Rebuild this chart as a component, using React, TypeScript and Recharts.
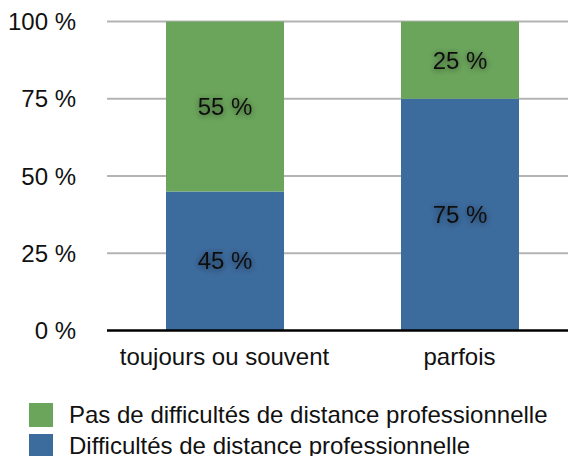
import React from 'react';
import { BarChart, Bar, XAxis, YAxis, CartesianGrid, Legend, LabelList } from 'recharts';

const categories = ['toujours ou souvent', 'parfois'];
const difficultes = [45, 75];
const pasDifficultes = [55, 25];
const yTicks = [0, 25, 50, 75, 100];

const seriesNames = {
  pas: 'Pas de difficultés de distance professionnelle',
  diff: 'Difficultés de distance professionnelle',
};
const GREEN = '#6ba55b';
const BLUE = '#3c6b9d';
const FONT = '"Liberation Sans", Arial, Helvetica, sans-serif';

const data = categories.map((c, i) => ({
  cat: c,
  diff: difficultes[i],
  pas: pasDifficultes[i],
}));

let labelId = 0;
const renderLabel = (props: any) => {
  const { x, y, width, height, value } = props;
  const id = `tshadow-${labelId++}`;
  return (
    <g>
      <defs>
        <filter id={id} x="-50%" y="-80%" width="200%" height="260%">
          <feGaussianBlur in="SourceAlpha" stdDeviation="3" />
          <feOffset dx="0" dy="1" result="b" />
          <feComponentTransfer>
            <feFuncA type="linear" slope="0.55" />
          </feComponentTransfer>
          <feMerge>
            <feMergeNode />
            <feMergeNode in="SourceGraphic" />
          </feMerge>
        </filter>
      </defs>
      <text
        x={Number(x) + Number(width) / 2}
        y={Number(y) + Number(height) / 2}
        textAnchor="middle"
        dominantBaseline="central"
        fontSize={24}
        fontFamily={FONT}
        fill="#111"
        filter={`url(#${id})`}
      >
        {`${value} %`}
      </text>
    </g>
  );
};

const LegendContent = () => {
  const rows = [
    { name: seriesNames.pas, color: GREEN },
    { name: seriesNames.diff, color: BLUE },
  ];
  return (
    <div style={{ height: 56, width: 560, paddingLeft: 29, paddingTop: 0, boxSizing: 'border-box', fontFamily: FONT }}>
      {rows.map((r) => (
        <div key={r.name} style={{ display: 'flex', alignItems: 'center', height: 30.5 }}>
          <div style={{ width: 24, height: 24, background: r.color, marginRight: 16, flexShrink: 0 }} />
          <span style={{ fontSize: 24, color: '#111', whiteSpace: 'nowrap', lineHeight: '24px' }}>{r.name}</span>
        </div>
      ))}
    </div>
  );
};

export default function App() {
  return (
    <div style={{ position: 'absolute', left: 0, top: 0, width: 568, height: 456, overflow: 'hidden', background: '#fff' }}>
      <BarChart
        width={577}
        height={456}
        data={data}
        margin={{ top: 21.5, right: 0, bottom: 0, left: 0 }}
        barCategoryGap={58.5}
      >
        <CartesianGrid vertical={false} stroke="#b3b3b3" strokeWidth={2} horizontalValues={[25, 50, 75, 100]} />
        <XAxis
          dataKey="cat"
          height={69.5}
          axisLine={{ stroke: '#000', strokeWidth: 2.5 }}
          tickLine={false}
          tickSize={0}
          tickMargin={17}
          tick={{ fontSize: 24, fontFamily: FONT, fill: '#111' }}
          interval={0}
        />
        <YAxis
          width={107}
          domain={[0, 100]}
          ticks={yTicks}
          axisLine={false}
          tickLine={false}
          tickSize={0}
          tickMargin={31}
          tickFormatter={(v: number) => `${v} %`}
          tick={{ fontSize: 24, fontFamily: FONT, fill: '#111' }}
        />
        <Legend verticalAlign="bottom" align="left" layout="horizontal" content={<LegendContent />} />
        <Bar dataKey="diff" name={seriesNames.diff} stackId="a" fill={BLUE} barSize={118} isAnimationActive={false}>
          <LabelList dataKey="diff" content={renderLabel} />
        </Bar>
        <Bar dataKey="pas" name={seriesNames.pas} stackId="a" fill={GREEN} barSize={118} isAnimationActive={false}>
          <LabelList dataKey="pas" content={renderLabel} />
        </Bar>
      </BarChart>
    </div>
  );
}
